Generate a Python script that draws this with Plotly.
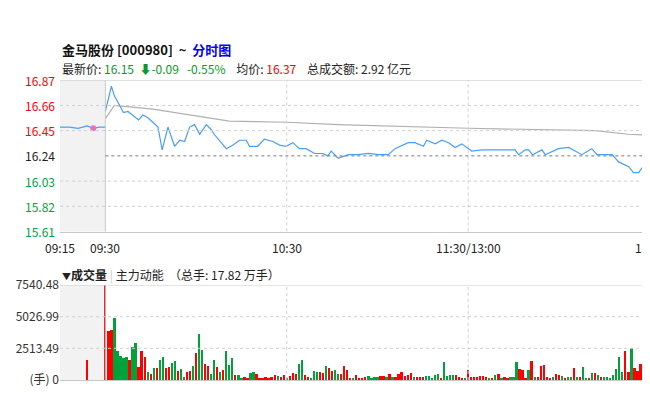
import plotly.graph_objects as go

# ---- data ----
pre_minutes = [0, 3, 6, 9, 11, 13, 15]
pre_prices = [16.48, 16.48, 16.47, 16.49, 16.47, 16.48, 16.48]
dot_minute = [11]
dot_price = [16.47]

price_minutes = [15, 17, 18, 20, 21, 22.5, 24, 26, 27.4, 29, 30.7, 32.4, 33.8, 35.7, 37.9, 39.6, 41.2, 42.9,
                 44.5, 46.2, 48.4, 50, 51, 52.8, 55, 57.2, 59.4, 61.6, 62.7, 65.4, 67.6, 70.4, 72.6, 74.8, 77,
                 79.2, 81.4, 84.2, 86.9, 88.6, 89.7, 92, 95.4, 98.7, 102, 105.3, 108.6, 110.8, 115.2, 117.4,
                 120.2, 121.3, 124.1, 126.3, 128.5, 130.7, 132.9, 136.2, 139.5, 144, 147.2, 150.5, 151.7,
                 153.9, 155, 156.3, 159.4, 160.5, 164.9, 168.2, 170.4, 172.6, 175.9, 177.6, 182.6, 184.8,
                 188.1, 189.7, 191.4, 192.5, 195.3, 196.4, 197.7]
prices = [16.61, 16.82, 16.74, 16.64, 16.60, 16.61, 16.58, 16.54, 16.58, 16.56, 16.52, 16.48, 16.29, 16.48,
          16.32, 16.37, 16.36, 16.48, 16.50, 16.42, 16.50, 16.46, 16.42, 16.37, 16.30, 16.33, 16.37, 16.37,
          16.32, 16.32, 16.38, 16.36, 16.33, 16.32, 16.35, 16.30, 16.30, 16.26, 16.26, 16.24, 16.28, 16.22,
          16.25, 16.25, 16.26, 16.25, 16.25, 16.30, 16.35, 16.35, 16.32, 16.37, 16.34, 16.37, 16.35, 16.31,
          16.34, 16.28, 16.29, 16.29, 16.29, 16.29, 16.25, 16.29, 16.29, 16.25, 16.29, 16.25, 16.30, 16.31,
          16.28, 16.25, 16.30, 16.25, 16.25, 16.19, 16.15, 16.10, 16.10, 16.14, 16.17, 16.15, 16.17]

avg_minutes = [15, 18, 30.7, 46, 56, 75, 92, 135, 177, 188, 197.7]
avg_prices = [16.55, 16.66, 16.63, 16.57, 16.53, 16.52, 16.50, 16.47, 16.45, 16.42, 16.41]

prev_close = 16.24
price_ticks = [16.87, 16.66, 16.45, 16.24, 16.03, 15.82, 15.61]

time_tick_minutes = [0, 15, 75, 135, 195]
time_tick_labels = ["09:15", "09:30", "10:30", "11:30/13:00", "14:00"]

pre_vol_minute = [9]
pre_vol = [1550]

vol = [7540, 3890, 3950, 4900, 2300, 1900, 1750, 1800, 1600, 2600, 2950, 1050, 2300, 1800, 600, 450, 900, 950,
       1550, 1850, 950, 1000, 1350, 1500, 700, 850, 250, 650, 700, 1100, 2150, 3650, 2350, 1250, 1100, 500,
       1600, 1000, 650, 800, 2300, 1150, 1700, 350, 350, 150, 250, 100, 550, 600, 450, 150, 100, 250, 150,
       200, 400, 300, 200, 350, 100, 300, 550, 500, 1250, 1600, 350, 250, 100, 700, 650, 650, 550, 1100, 900,
       700, 750, 450, 500, 1100, 800, 100, 150, 350, 100, 150, 200, 300, 150, 250, 200, 300, 300, 250, 500,
       250, 250, 500, 650, 300, 400, 550, 250, 250, 200, 250, 300, 300, 150, 400, 450, 100, 1400, 300, 350,
       400, 350, 250, 150, 150, 750, 200, 250, 250, 300, 300, 250, 100, 150, 350, 500, 150, 250, 100, 250,
       200, 1400, 850, 800, 150, 800, 1500, 250, 250, 1100, 1200, 200, 150, 250, 450, 350, 300, 150, 250,
       200, 900, 200, 200, 1050, 150, 100, 550, 550, 350, 250, 250, 250, 150, 350, 850, 1800, 650, 2300, 650,
       2550, 900, 700, 1250, 650, 150, 600, 250, 300]
vol_dir = list("rrrgggggrggrrrgrgrggrrggrggrrgrggrrggrgrgggrggrrggrrrrrrrgrrgrrrggrrgggrrgrrggrrrrgrrrrggggrrgrgrrrrrrgrrrgggggrggggrrrgrrrrrrrgrgrgrrgggrrrgrgrrrrrgrrgrggrgrggrgrgrgggggggrrgrrrr")
vol_ticks = [0, 2513.49, 5026.99, 7540.48]
vol_tick_labels = ["(手) 0", "2513.49", "5026.99", "7540.48"]

# ---- figure ----
RED, GREEN = "#ff0000", "#00a23c"
n = len(vol)
vol_minutes = [15 + i for i in range(n)]
dirs = (vol_dir + ["g"] * n)[:n]
colors = [RED if d == "r" else GREEN for d in dirs]

fig = go.Figure()
fig.add_trace(go.Scatter(x=pre_minutes, y=pre_prices, mode="lines", line=dict(color="#4a9ff5", width=1.2),
                         xaxis="x", yaxis="y", hoverinfo="skip"))
fig.add_trace(go.Scatter(x=avg_minutes, y=avg_prices, mode="lines", line=dict(color="#b0b0b0", width=1.2),
                         xaxis="x", yaxis="y"))
fig.add_trace(go.Scatter(x=price_minutes, y=prices, mode="lines", line=dict(color="#4a9ff5", width=1.2),
                         xaxis="x", yaxis="y"))
fig.add_trace(go.Scatter(x=dot_minute, y=dot_price, mode="markers", marker=dict(color="#e377b8", size=6),
                         xaxis="x", yaxis="y"))
fig.add_trace(go.Bar(x=vol_minutes, y=vol, marker=dict(color=colors, line=dict(width=0)), width=0.75,
                     xaxis="x2", yaxis="y2"))
fig.add_trace(go.Bar(x=pre_vol_minute, y=pre_vol, marker=dict(color=RED, line=dict(width=0)), width=0.75,
                     xaxis="x2", yaxis="y2"))

XR = [0, 197.8]
TOP = [0.4425, 0.8375]
BOT = [0.055, 0.3025]
grid = "#d0d0d0"
fig.update_layout(
    width=650, height=400, margin=dict(l=52, r=0, t=0, b=0),
    paper_bgcolor="white", plot_bgcolor="white", showlegend=False, bargap=0,
    font=dict(family="Noto Sans CJK SC, DejaVu Sans", size=12, color="#333"),
    xaxis=dict(domain=[0, 1], range=XR, showticklabels=False,
               showgrid=False, zeroline=False, showline=True, linecolor="#c8c8c8", ticks="", anchor="y"),
    yaxis=dict(domain=TOP, range=[price_ticks[-1], price_ticks[0]], showticklabels=False, showgrid=False,
               zeroline=False, tickvals=price_ticks),
    xaxis2=dict(domain=[0, 1], range=XR, showticklabels=False, showgrid=False, zeroline=False,
                showline=True, linecolor="#c8c8c8", anchor="y2"),
    yaxis2=dict(domain=BOT, range=[0, vol_ticks[-1]], tickvals=vol_ticks, ticktext=vol_tick_labels,
                showgrid=False, zeroline=False, tickfont=dict(size=12, color="#333"), ticks=""),
)

shapes = []
for xr, yr in (("x", "y"), ("x2", "y2")):
    shapes.append(dict(type="rect", xref=xr, yref=yr + " domain", x0=0, x1=15, y0=0, y1=1,
                       fillcolor="#f2f2f2", line=dict(width=0), layer="below"))
    shapes.append(dict(type="line", xref=xr, yref=yr + " domain", x0=15, x1=15, y0=0, y1=1,
                       line=dict(color="#c8c8c8", width=1)))
    for m in time_tick_minutes[2:]:
        shapes.append(dict(type="line", xref=xr, yref=yr + " domain", x0=m, x1=m, y0=0, y1=1,
                           line=dict(color=grid, width=1, dash="dot")))
for p in price_ticks[1:-1]:
    if p == prev_close:
        shapes.append(dict(type="line", xref="x", yref="y", x0=15, x1=XR[1], y0=p, y1=p,
                           line=dict(color="#777", width=1, dash="dot")))
    else:
        shapes.append(dict(type="line", xref="x", yref="y", x0=0, x1=XR[1], y0=p, y1=p,
                           line=dict(color=grid, width=1, dash="dot")))
shapes.append(dict(type="line", xref="x domain", yref="y", x0=0, x1=1, y0=price_ticks[0], y1=price_ticks[0],
                   line=dict(color="#c8c8c8", width=1)))
for v in vol_ticks[1:-1]:
    shapes.append(dict(type="line", xref="x2", yref="y2", x0=0, x1=XR[1], y0=v, y1=v,
                       line=dict(color=grid, width=1, dash="dot")))
shapes.append(dict(type="line", xref="x2 domain", yref="y2", x0=0, x1=1, y0=vol_ticks[-1], y1=vol_ticks[-1],
                   line=dict(color="#c8c8c8", width=1)))
fig.update_layout(shapes=shapes)

ann = []
for p in price_ticks:
    c = RED if p > prev_close else ("#222" if p == prev_close else GREEN)
    ann.append(dict(xref="paper", yref="y", x=0, y=p, text=f"{p:.2f}", showarrow=False, xanchor="right",
                    xshift=-3, font=dict(size=12, color=c)))
for m, t in zip(time_tick_minutes, time_tick_labels):
    ann.append(dict(xref="x", yref="paper", x=m, y=1 - 240 / 400, text=t, showarrow=False, xanchor="center",
                    yanchor="middle", font=dict(size=12, color="#222")))
ann.append(dict(xref="paper", yref="paper", x=0, y=1 - 33 / 400, xanchor="left", yanchor="middle", showarrow=False,
                text="<b>金马股份 [000980]  ~  </b><b><span style='color:#0000ff'>分时图</span></b>",
                font=dict(size=13, color="#111")))
ann.append(dict(xref="paper", yref="paper", x=0, y=1 - 53 / 400, xanchor="left", yanchor="middle", showarrow=False,
                text=("最新价: <span style='color:#0a9a2a'>16.15  ⬇-0.09   -0.55%</span>    均价: "
                      "<span style='color:#ff0000'>16.37</span>    总成交额: 2.92 亿元"),
                font=dict(size=12, color="#222")))
ann.append(dict(xref="paper", yref="paper", x=0, y=1 - 268 / 400, xanchor="left", yanchor="middle", showarrow=False,
                text="<span style='font-size:9px'>▼</span><b>成交量</b> <span style='color:#ccc'>|</span> 主力动能  （总手: 17.82 万手）",
                font=dict(size=12, color="#222")))
fig.update_layout(annotations=ann)

fig.write_html("out.html")
